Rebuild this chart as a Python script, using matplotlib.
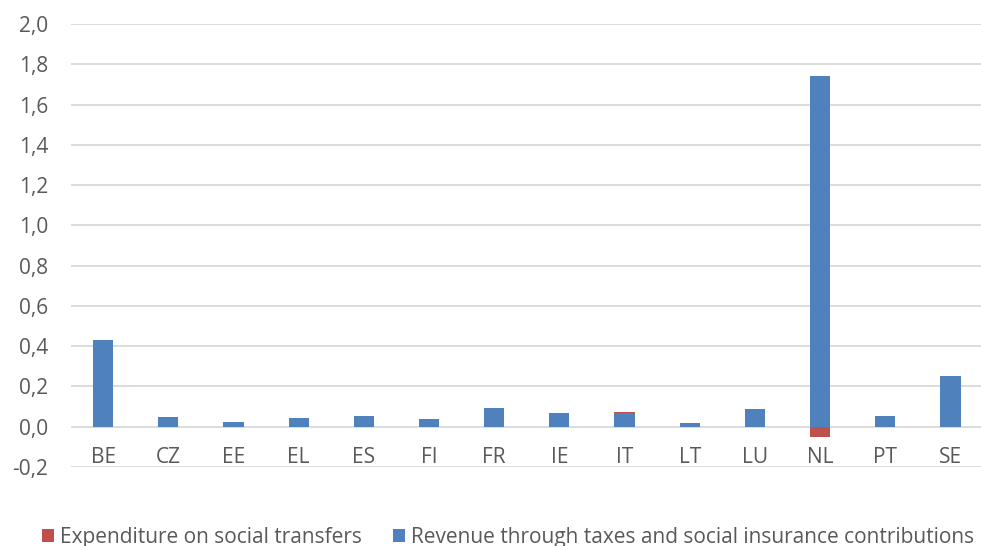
import numpy as np
import matplotlib.pyplot as plt

plt.rcParams['font.family'] = ['Open Sans', 'DejaVu Sans']

countries = ['BE', 'CZ', 'EE', 'EL', 'ES', 'FI', 'FR', 'IE', 'IT', 'LT', 'LU', 'NL', 'PT', 'SE']
revenue = [0.430, 0.048, 0.023, 0.044, 0.051, 0.036, 0.094, 0.068, 0.070, 0.020, 0.090, 1.743, 0.054, 0.252]
expenditure = [0.0, 0.0, 0.0, 0.0, 0.002, 0.003, 0.0, 0.0, 0.001, 0.0, 0.0, -0.050, 0.0, 0.0]
yticks = [-0.2, 0.0, 0.2, 0.4, 0.6, 0.8, 1.0, 1.2, 1.4, 1.6, 1.8, 2.0]

red = '#C0504D'
blue = '#4F81BD'
grey = '#595959'

fig = plt.figure(figsize=(9.81, 5.46), dpi=100)
# plot area in pixels: x 70.5..983, y 24..467
ax = fig.add_axes([70.5 / 981, (546 - 467) / 546, (983 - 70.5) / 981, (467 - 24) / 546])

x = np.arange(len(countries))
rev = np.array(revenue)
exp = np.array(expenditure)
# positive expenditure stacks on top of revenue, negative goes below zero
exp_bottom = np.where(exp > 0, rev, 0)
ax.bar(x, rev, width=0.31, color=blue, zorder=3, label='Revenue through taxes and social insurance contributions')
ax.bar(x, exp, width=0.31, bottom=exp_bottom, color=red, zorder=3, label='Expenditure on social transfers')

ax.set_xlim(-0.5, len(countries) - 0.5)
ax.set_ylim(-0.2, 2.0)
ax.set_yticks(yticks)
ax.set_yticklabels([f'{v:.1f}'.replace('.', ',') for v in yticks], fontsize=15, color=grey)
ax.grid(axis='y', color='#D9D9D9', linewidth=1.3, zorder=0)
ax.tick_params(axis='y', length=0, pad=16)
ax.set_xticks([])
for s in ax.spines.values():
    s.set_visible(False)

for xi, c in zip(x, countries):
    ax.text(xi, -0.152, c, ha='center', va='center', fontsize=15, color=grey)

handles, labels = ax.get_legend_handles_labels()
leg = fig.legend(handles[::-1], labels[::-1], loc='center', bbox_to_anchor=(508 / 981, 1 - 537 / 546),
                 ncol=2, frameon=False, fontsize=15, handlelength=0.58, handleheight=0.58,
                 handletextpad=0.3, columnspacing=1.5, labelcolor=grey)

fig.savefig('out.png', dpi=100)
